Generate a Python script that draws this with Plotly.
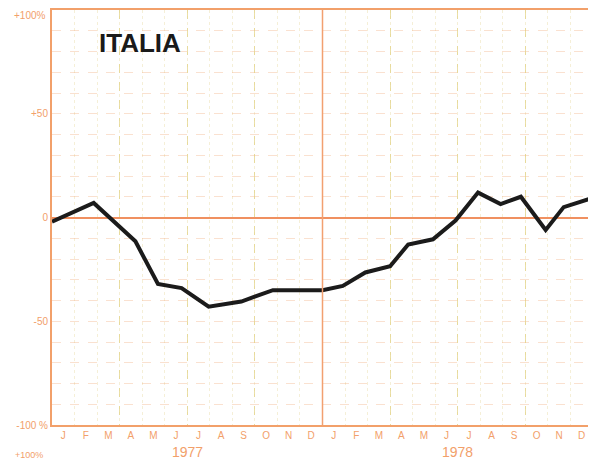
import plotly.graph_objects as go

# month position (0 = start of Jan 1977, 24 = end of Dec 1978) and % value
months = [0, 1.85, 3.7, 4.7, 5.75, 6.95, 8.4, 9.8, 12.0, 12.9, 13.9, 15.0,
          15.8, 16.9, 17.9, 18.9, 19.9, 20.8, 21.9, 22.7, 24.0]
values = [-2, 7, -11.5, -32, -34, -43, -40.5, -35, -35, -33, -26.5, -23.5,
          -13, -10.5, -1.5, 12, 6.5, 10, -6, 5, 9.5]

month_letters = ["J", "F", "M", "A", "M", "J", "J", "A", "S", "O", "N", "D"] * 2
years = ["1977", "1978"]
y_ticks = [-100, -50, 0, 50]
y_labels = ["-100 %", "-50", "0", "+50"]
top_label = "+100%"

orange = "#f2a06a"
grid_or = "rgba(240,170,120,0.35)"
grid_ye = "rgba(225,210,130,0.7)"
grid_faint = "rgba(225,210,140,0.35)"
font = "Liberation Sans, sans-serif"

fig = go.Figure()

fig.add_trace(go.Scatter(x=months, y=values, mode="lines",
                         line=dict(color="#1b1b1b", width=4),
                         showlegend=False, xaxis="x", yaxis="y"))
# invisible trace to carry the quarter grid axis
fig.add_trace(go.Scatter(x=[0, 24], y=[0, 0], mode="lines", line=dict(width=0),
                         showlegend=False, hoverinfo="skip", xaxis="x2", yaxis="y"))

# page body has an 8px margin, so the figure is sized to fit inside the window
fig.update_layout(
    width=588, height=453,
    margin=dict(l=44, r=3, t=2, b=36, autoexpand=False),
    plot_bgcolor="white", paper_bgcolor="white",
    font=dict(family=font, color=orange),
    xaxis=dict(
        range=[0, 24], showgrid=False, zeroline=False, automargin=False,
        tickvals=[i + 0.5 for i in range(24)], ticktext=month_letters,
        ticks="", tickfont=dict(size=10, color=orange),
        showline=True, linecolor=orange, linewidth=2, mirror=True,
        minor=dict(tickvals=list(range(1, 24)), showgrid=True,
                   gridcolor=grid_faint, griddash="dot", gridwidth=1, ticks=""),
    ),
    xaxis2=dict(
        range=[0, 24], overlaying="x", matches="x", showticklabels=False,
        tickvals=[3, 6, 9, 15, 18, 21], showgrid=True, gridcolor=grid_ye,
        griddash="dash", gridwidth=1.2, zeroline=False, ticks="", automargin=False,
    ),
    yaxis=dict(
        range=[-100, 100], tickvals=y_ticks, ticktext=y_labels, automargin=False,
        ticks="", tickfont=dict(size=10, color=orange),
        showgrid=True, gridcolor=grid_or, griddash="dash", gridwidth=1,
        zeroline=True, zerolinecolor="#f09060", zerolinewidth=1.5,
        showline=True, linecolor=orange, linewidth=2, mirror=True,
        minor=dict(tickvals=[v for v in range(-90, 100, 10) if v % 50 != 0],
                   showgrid=True, gridcolor=grid_or, griddash="dash", gridwidth=1),
    ),
)

# year divider
fig.add_vline(x=12, line=dict(color="#f2a070", width=1.5))

for i, yr in enumerate(years):
    fig.add_annotation(x=6 + 12 * i, y=0, xref="x", yref="paper", text=yr,
                       showarrow=False, yanchor="top", yshift=-17,
                       font=dict(size=14, color=orange, family=font))

# +100% label, kept inside the top edge
fig.add_annotation(x=0, y=1, xref="paper", yref="paper", text=top_label,
                   showarrow=False, xanchor="right", yanchor="top", xshift=-4, yshift=2,
                   font=dict(size=10, color=orange, family=font))

fig.add_annotation(x=2.0, y=84, xref="x", yref="y", text="<b>ITALIA</b>",
                   showarrow=False, xanchor="left", yanchor="middle",
                   font=dict(size=26, color="#1a1a1a", family="Liberation Sans, Arial, sans-serif"))

# top label of the next chart, at the bottom edge
fig.add_annotation(x=0, y=0, xref="paper", yref="paper", text=top_label,
                   showarrow=False, xanchor="right", yanchor="top", xshift=-7, yshift=-23,
                   font=dict(size=9, color=orange, family=font))

fig.write_html("out.html")
